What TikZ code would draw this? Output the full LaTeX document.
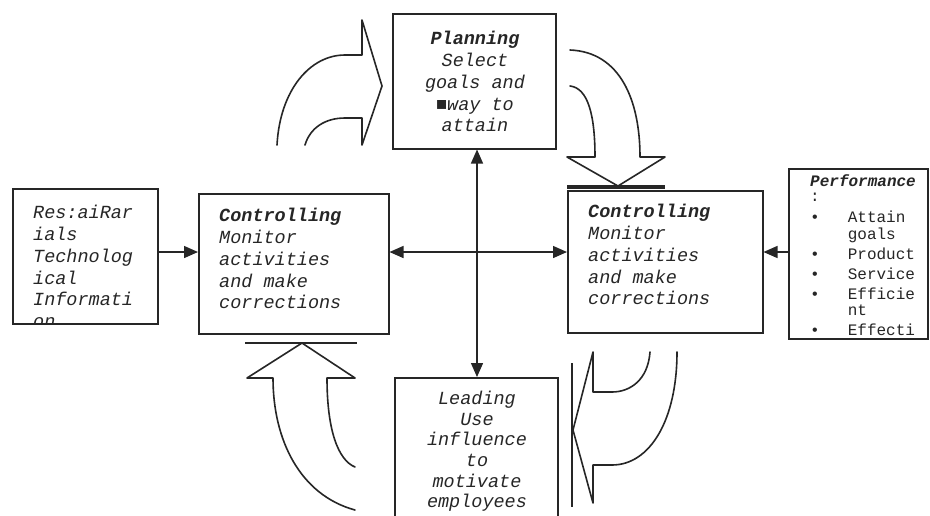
\documentclass[tikz,border=0pt]{standalone}
\usepackage{fontspec}
\setmonofont{Liberation Mono}
\usetikzlibrary{arrows.meta}

\begin{document}
\begin{tikzpicture}[
  x=1pt, y=-1pt,
  >={Triangle[length=14pt,width=12pt]},
  box/.style={draw=black!85, line width=1.5pt, anchor=north west, inner sep=0pt},
  txt/.style={font=\ttfamily\itshape\fontsize{18.5}{21.8}\selectfont, text=black!85, anchor=north west, inner sep=0pt, align=left},
  ctxt/.style={txt, anchor=north, align=center},
  ptxt/.style={font=\ttfamily\fontsize{16}{15.5}\selectfont, text=black!85, anchor=north west, inner sep=0pt},
  link/.style={draw=black!85, line width=1.4pt},
  hollow/.style={draw=black!85, line width=1.6pt, line join=round, line cap=round},
  bar/.style={draw=black!85, line width=1.6pt}
]
\useasboundingbox[fill=white] (0,0) rectangle (930,515);

% Boxes
\node[box, minimum width=145pt, minimum height=135pt] (res) at (12,188) {};
\node[box, minimum width=190pt, minimum height=140pt] (ctrlL) at (198,193) {};
\node[box, minimum width=163pt, minimum height=135pt] (plan) at (392,13) {};
\node[box, minimum width=195pt, minimum height=142pt] (ctrlR) at (567,190) {};
\node[box, minimum width=139pt, minimum height=170pt] (perf) at (788,168) {};
\node[box, minimum width=163pt, minimum height=160pt] (lead) at (394,377) {};

% Texts
\begin{scope}
  \clip (12,188) rectangle (157,323);
  \node[txt] (restxt) at (33,205) {Res:aiRar\\ials\\Technolog\\ical\\Informati\\on};
\end{scope}
\node[txt] (ctrlLtxt) at (219,208) {{\bfseries Controlling}\\Monitor\\activities\\and make\\corrections};
\node[ctxt] (plantxt) at (475,31) {{\bfseries Planning}\\Select\\goals and\\■way to\\attain};
\node[txt] (ctrlRtxt) at (588,204) {{\bfseries Controlling}\\Monitor\\activities\\and make\\corrections};
\node[ctxt, font=\ttfamily\itshape\fontsize{18.5}{20.6}\selectfont] (leadtxt) at (477,391)
  {Leading\\Use\\influence\\to\\motivate\\employees};
\node[ptxt] (perftxt) at (810,174) {\begin{tabular}{@{}l@{\hspace{28pt}}l@{}}
  \multicolumn{2}{@{}l@{}}{\bfseries\itshape Performance}\\
  :\\[5pt]
  \textbullet & Attain\\
              & goals\\[4pt]
  \textbullet & Product\\[4pt]
  \textbullet & Service\\[4pt]
  \textbullet & Efficie\\
              & nt\\[4pt]
  \textbullet & Effecti
\end{tabular}};

% Straight connectors
\coordinate (hub) at (477,252);
\draw[link,->] (res.east |- hub) -- (hub -| ctrlL.west);
\draw[link,<->] (hub -| ctrlL.east) -- (hub -| ctrlR.west);
\draw[link,<->] (hub |- plan.south) -- (hub |- lead.north);
\draw[link,->] (hub -| perf.west) -- (hub -| ctrlR.east);

% Hollow curved arrows
% top left: into planning
\draw[hollow] (277,145) .. controls (280,90) and (310,55) .. (345,55) -- (362,55) -- (362,20)
  -- (382,86) -- (362,145) -- (362,118) -- (345,118) .. controls (325,118) and (310,128) .. (305,145);
% top right: down to controlling
\draw[hollow] (570,50) .. controls (620,52) and (640,100) .. (640,157) -- (665,157) -- (618,186)
  -- (567,157) -- (595,157) .. controls (595,115) and (588,88) .. (570,86);
\draw[bar, line width=4pt] (567,187) -- (665,187);
% bottom left: up to controlling
\draw[bar] (245,343) -- (357,343);
\draw[hollow] (355,510) .. controls (300,495) and (273,440) .. (273,378) -- (247,378) -- (302,343)
  -- (355,378) -- (327,378) .. controls (327,430) and (338,460) .. (355,467);
% bottom right: towards leading
\draw[bar] (572,363) -- (572,507);
\draw[hollow] (650,352) .. controls (648,380) and (630,392) .. (612,392) -- (593,392) -- (593,352)
  -- (573,430) -- (593,503) -- (593,465) -- (612,465) .. controls (650,465) and (677,420) .. (677,352);
\end{tikzpicture}
\end{document}
